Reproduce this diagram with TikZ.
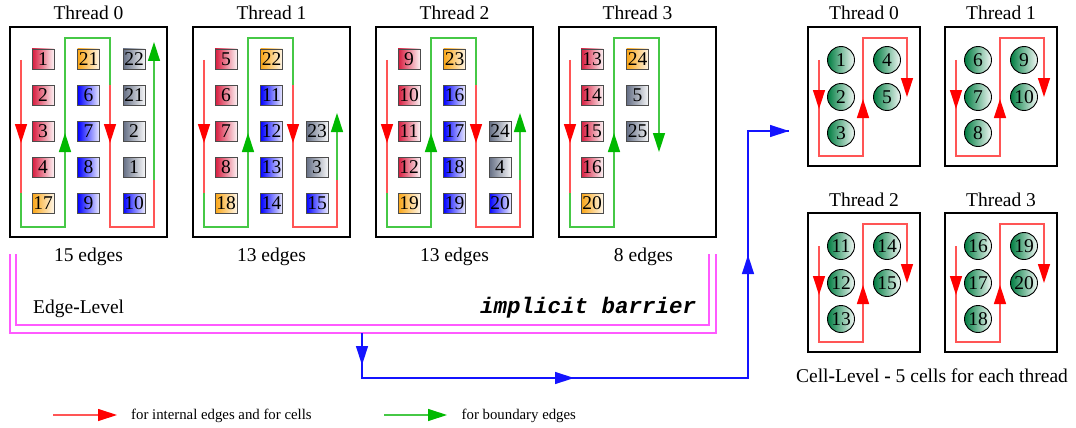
\documentclass[tikz,border=0pt]{standalone}
\usepackage{fontspec}
\setmainfont{Liberation Serif}
\setmonofont{Liberation Mono}
\usetikzlibrary{arrows.meta}
\definecolor{crim}{RGB}{215,25,60}
\definecolor{orng}{RGB}{250,165,20}
\definecolor{blu}{RGB}{0,0,255}
\definecolor{slat}{RGB}{100,110,132}
\definecolor{grn}{RGB}{0,125,65}
\definecolor{lred}{RGB}{255,85,85}
\definecolor{ared}{RGB}{255,0,0}
\definecolor{lgrn}{RGB}{70,200,70}
\definecolor{agrn}{RGB}{0,185,0}
\definecolor{mag}{RGB}{255,90,255}
\definecolor{bl}{RGB}{20,20,255}
\tikzset{
  x=1pt, y=-1pt,
  big/.style={font=\fontsize{19.5}{22}\selectfont, inner sep=0pt},
  small/.style={font=\fontsize{14.8}{17}\selectfont, inner sep=0pt},
  frame/.style={draw=black, line width=2.8pt, inner sep=0pt},
  sq/.style={draw=black!70, line width=0.9pt, minimum width=22pt, minimum height=20pt, inner sep=0pt, font=\fontsize{19.5}{20}\selectfont},
  sr/.style={sq, left color=crim, right color=crim!6},
  so/.style={sq, left color=orng, right color=orng!10},
  sb/.style={sq, left color=blu, right color=blu!8},
  sg/.style={sq, left color=slat, right color=slat!6},
  cellc/.style={circle, draw=black, line width=0.9pt, minimum size=27pt, inner sep=0pt, left color=grn, right color=grn!5, font=\fontsize{19.5}{20}\selectfont},
  rl/.style={draw=lred, line width=1.4pt},
  gl/.style={draw=lgrn, line width=1.4pt},
  rtip/.style={rl, -{Triangle[length=19pt, width=12pt, color=ared, fill=ared]}},
  gtip/.style={gl, -{Triangle[length=19pt, width=12pt, color=agrn, fill=agrn]}},
  bline/.style={draw=bl, line width=1.4pt},
  btip/.style={bline, -{Triangle[length=19pt, width=12pt, color=bl, fill=bl]}},
  mline/.style={draw=mag, line width=1.6pt},
}
\begin{document}
\begin{tikzpicture}
\useasboundingbox (0,0) rectangle (1076,428);
% ---------- edge-level boxes ----------
\foreach \L/\n/\e/\dx in {10/0/15 edges/0, 193/1/13 edges/0, 376/2/13 edges/0, 559/3/8 edges/6} {
  \node[frame, minimum width=157pt, minimum height=210pt] (eb\n) at (\L+78.5,132) {};
  \node[big, anchor=base] (et\n) at (\L+78.5,20) {Thread \n};
  \node[big, anchor=base] (ee\n) at (\L+78.5+\dx,261) {\e};
}
% paths boxes 0..2
\foreach \L/\tip in {10/42, 193/113, 376/113} {
  \draw[rl] (\L+11,60) -- (\L+11,193);
  \draw[gl] (\L+11,193) -- (\L+11,227) -- (\L+55,227) -- (\L+55,38) -- (\L+100,38) -- (\L+100,85);
  \draw[rl] (\L+100,85) -- (\L+100,227) -- (\L+144,227) -- (\L+144,180);
  \draw[gl] (\L+144,180) -- (\L+144,\tip+20);
  \draw[rtip] (\L+11,115) -- (\L+11,143);
  \draw[gtip] (\L+55,160) -- (\L+55,133);
  \draw[rtip] (\L+100,115) -- (\L+100,143);
  \draw[gtip] (\L+144,\tip+28) -- (\L+144,\tip);
}
% path box 3
\draw[rl] (570,60) -- (570,193);
\draw[gl] (570,193) -- (570,227) -- (614,227) -- (614,38) -- (659,38) -- (659,135);
\draw[rtip] (570,115) -- (570,143);
\draw[gtip] (614,160) -- (614,133);
\draw[gtip] (659,125) -- (659,152);
% squares
\foreach \c/\r/\s/\t in {0/0/sr/1,0/1/sr/2,0/2/sr/3,0/3/sr/4,0/4/so/17,
  1/0/so/21,1/1/sb/6,1/2/sb/7,1/3/sb/8,1/4/sb/9,
  2/0/sg/22,2/1/sg/21,2/2/sg/2,2/3/sg/1,2/4/sb/10}
  \node[\s] (a\c\r) at (10+33+45.5*\c, 59+36*\r) {\t};
\foreach \c/\r/\s/\t in {0/0/sr/5,0/1/sr/6,0/2/sr/7,0/3/sr/8,0/4/so/18,
  1/0/so/22,1/1/sb/11,1/2/sb/12,1/3/sb/13,1/4/sb/14,
  2/2/sg/23,2/3/sg/3,2/4/sb/15}
  \node[\s] (b\c\r) at (193+33+45.5*\c, 59+36*\r) {\t};
\foreach \c/\r/\s/\t in {0/0/sr/9,0/1/sr/10,0/2/sr/11,0/3/sr/12,0/4/so/19,
  1/0/so/23,1/1/sb/16,1/2/sb/17,1/3/sb/18,1/4/sb/19,
  2/2/sg/24,2/3/sg/4,2/4/sb/20}
  \node[\s] (c\c\r) at (376+33+45.5*\c, 59+36*\r) {\t};
\foreach \c/\r/\s/\t in {0/0/sr/13,0/1/sr/14,0/2/sr/15,0/3/sr/16,0/4/so/20,
  1/0/so/24,1/1/sg/5,1/2/sg/25}
  \node[\s] (d\c\r) at (559+33+45.5*\c, 59+36*\r) {\t};
% ---------- cell-level boxes ----------
\foreach \L/\T/\n in {808/27/0, 945/27/1, 808/213/2, 945/213/3} {
  \node[frame, minimum width=112pt, minimum height=139pt] (cb\n) at (\L+56,\T+69.5) {};
  \node[big, anchor=base] (ct\n) at (\L+56,\T-7) {Thread \n};
  \draw[rl] (\L+11,\T+33) -- (\L+11,\T+129) -- (\L+55,\T+129) -- (\L+55,\T+11) -- (\L+99,\T+11) -- (\L+99,\T+55);
  \draw[rtip] (\L+11,\T+55) -- (\L+11,\T+82);
  \draw[rtip] (\L+55,\T+100) -- (\L+55,\T+72);
  \draw[rtip] (\L+99,\T+45) -- (\L+99,\T+70);
  \pgfmathtruncatemacro{\k}{5*\n}
  \foreach \cx/\cy/\i in {33/33/1, 33/70/2, 33/106/3, 79/33/4, 79/70/5} {
    \pgfmathtruncatemacro{\num}{\k+\i}
    \node[cellc] (cc\n-\i) at (\L+\cx,\T+\cy) {\num};
  }
}
\node[big, anchor=base] (cl) at (932,382) {Cell\textbf{-}Level \textbf{-} 5 cells for each thread};
% ---------- barrier ----------
\draw[mline] (10,254) -- (10,333) -- (716,333) -- (716,254);
\draw[mline] (16,254) -- (16,325) -- (709,325) -- (709,254);
\node[big, anchor=base west] (el) at (33,313) {Edge\textbf{-}Level};
\node[anchor=base west, inner sep=0pt, font=\fontsize{22.5}{24}\selectfont\ttfamily\bfseries\itshape] (ib) at (480,313) {implicit barrier};
% ---------- blue flow ----------
\coordinate (b1) at (362,333);
\coordinate (b2) at (362,378);
\coordinate (b3) at (748,378);
\coordinate (b4) at (748,131);
\coordinate (b5) at (789,131);
\draw[bline] (b1) -- (b2) -- (b3) -- (b4) -- (b5);
\draw[btip] (362,340) -- (362,365);
\draw[btip] (545,378) -- (574,378);
\draw[btip] (748,285) -- (748,255);
\draw[btip] (760,131) -- (b5);
% ---------- legend ----------
\coordinate (lr1) at (53,415);
\coordinate (lr2) at (117,415);
\coordinate (lg1) at (384,415);
\coordinate (lg2) at (447,415);
\draw[rtip, line width=1.2pt] (lr1) -- (lr2);
\draw[gtip, line width=1.2pt] (lg1) -- (lg2);
\node[small, anchor=base west] (lt1) at (131,419) {for internal edges and for cells};
\node[small, anchor=base west] (lt2) at (461.5,419) {for boundary edges};
\end{tikzpicture}
\end{document}
